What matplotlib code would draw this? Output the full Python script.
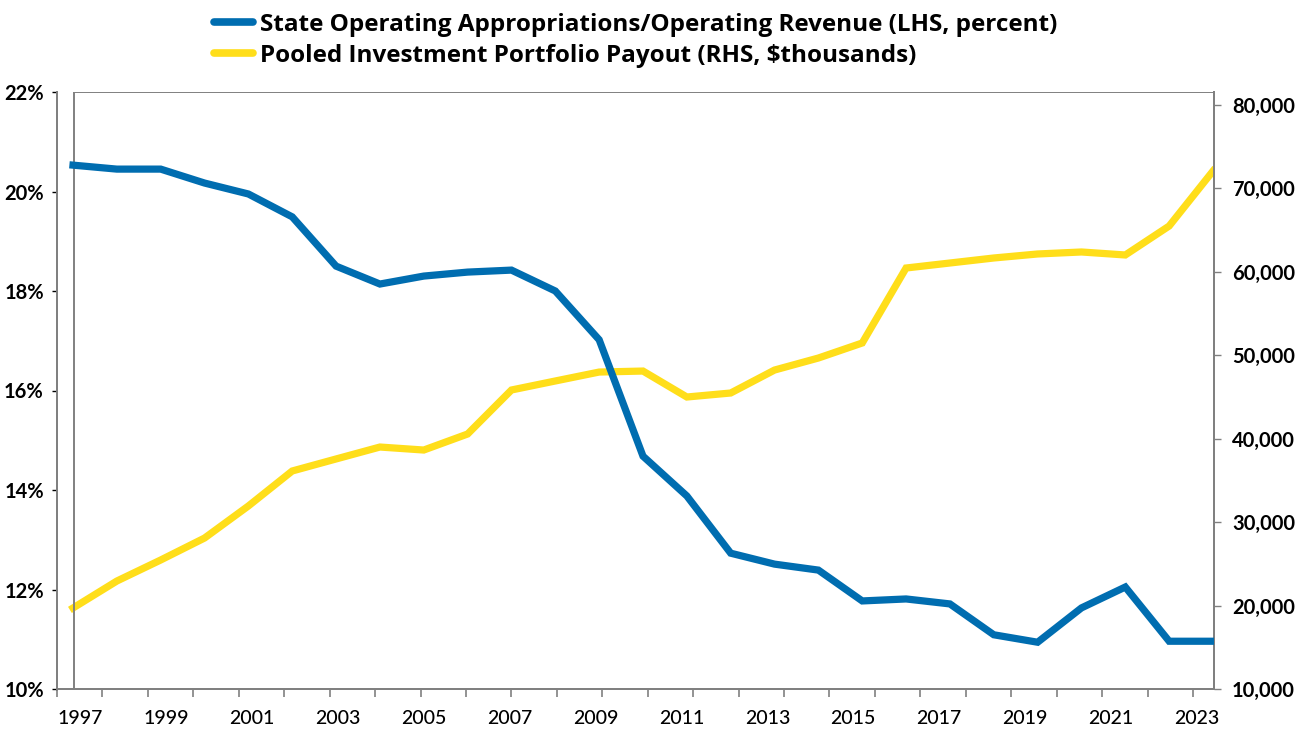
import numpy as np
import matplotlib
matplotlib.use("Agg")
import matplotlib.pyplot as plt
from matplotlib.lines import Line2D

plt.rcParams["font.family"] = ["Lato", "DejaVu Sans"]

years = list(range(1997, 2024))
state_share = [20.53, 20.45, 20.45, 20.17, 19.95, 19.49, 18.50, 18.14, 18.30, 18.38,
               18.42, 18.00, 17.02, 14.68, 13.88, 12.73, 12.51, 12.39, 11.77, 11.81,
               11.71, 11.09, 10.94, 11.63, 12.05, 10.96, 10.96]
payout = [19700, 22930, 25450, 28080, 31920, 36110, 37550, 38980, 38620, 40540,
          45810, 46890, 47960, 48080, 44970, 45450, 48200, 49640, 51440, 60420,
          61020, 61620, 62100, 62340, 61980, 65450, 72040]
year_labels = [str(y) for y in range(1997, 2024, 2)]
left_ticks = [10, 12, 14, 16, 18, 20, 22]
right_ticks = [10000, 20000, 30000, 40000, 50000, 60000, 70000, 80000]

blue = "#006DB0"
yellow = "#FFDE1A"
spine_c = "#808080"

W, H = 1307, 731
fig = plt.figure(figsize=(W / 100, H / 100), dpi=100)
# axes box in pixels: left spine at 57, right at 1214, top 92, bottom 689
ax = fig.add_axes([57 / W, (H - 689) / H, (1214 - 57) / W, (689 - 92) / H])
ax2 = ax.twinx()

px_year = (1213 - 73) / 26.0
x0 = 1997 - (73 - 57) / px_year
x1 = 1997 + (1214 - 73) / px_year

ax.plot(years, state_share, color=blue, lw=5.2, solid_joinstyle="miter", zorder=3)
ax2.plot(years, payout, color=yellow, lw=5.2, solid_joinstyle="miter", zorder=3)
ax.set_zorder(ax2.get_zorder() + 1)
ax.patch.set_visible(False)

ax.set_xlim(x0, x1)
ax.set_ylim(10, 22)
ax2.set_ylim(10000, 81500)

# inner frame of the plot area
frame_x = (74 - 57) / (1214 - 57)
ax.add_line(Line2D([frame_x, frame_x], [0, 1], transform=ax.transAxes,
                   color=spine_c, lw=1.4, zorder=1))
ax.add_line(Line2D([frame_x, 1], [1, 1], transform=ax.transAxes,
                   color=spine_c, lw=1.4, zorder=1))

for a in (ax, ax2):
    a.spines["top"].set_visible(False)
    for s in ("left", "right", "bottom"):
        a.spines[s].set_color(spine_c)
        a.spines[s].set_linewidth(1.4)

# y axes
ax.set_yticks(left_ticks)
ax.set_yticklabels([f"{v}%" for v in left_ticks])
ax.tick_params(axis="y", direction="out", length=3.5, width=1, color="black",
               pad=6, labelsize=14.5, labelcolor="black")
for t in ax.get_yticklabels():
    t.set_fontweight("bold")

ax2.set_yticks(right_ticks)
ax2.set_yticklabels([f"{v:,}" for v in right_ticks])
ax2.tick_params(axis="y", direction="out", length=5, width=1, color=spine_c,
                pad=8, labelsize=14.5, labelcolor="black")
for t in ax2.get_yticklabels():
    t.set_fontweight("bold")

# x axis: tick marks (minor) and labels (major) sit at different spots
step = 45.44 / px_year
ax.set_xticks(x0 + step * np.arange(26), minor=True)
lab_first = 1997 + (80 - 73) / px_year
lab_last = 1997 + (1197 - 73) / px_year
ax.set_xticks(np.linspace(lab_first, lab_last, len(year_labels)))
ax.set_xticklabels(year_labels)
ax.tick_params(axis="x", which="minor", direction="out", length=6, width=1.2,
               color=spine_c)
ax.tick_params(axis="x", which="major", length=0, pad=15, labelsize=14,
               labelcolor="black")
for t in ax.get_xticklabels():
    t.set_fontweight("medium")

handles = [Line2D([], [], color=blue, lw=5.5, solid_capstyle="round"),
           Line2D([], [], color=yellow, lw=5.5, solid_capstyle="round")]
labels = ["State Operating Appropriations/Operating Revenue (LHS, percent)",
          "Pooled Investment Portfolio Payout (RHS, $thousands)"]
fig.legend(handles, labels, loc="upper left", bbox_to_anchor=(214 / W, 1.0 - 13 / H),
           frameon=False, prop={"family": "Open Sans", "weight": "bold", "size": 17.5},
           handlelength=1.6, handletextpad=0.3, labelspacing=0.28,
           borderpad=0, borderaxespad=0)

fig.savefig("out.png", dpi=100)
